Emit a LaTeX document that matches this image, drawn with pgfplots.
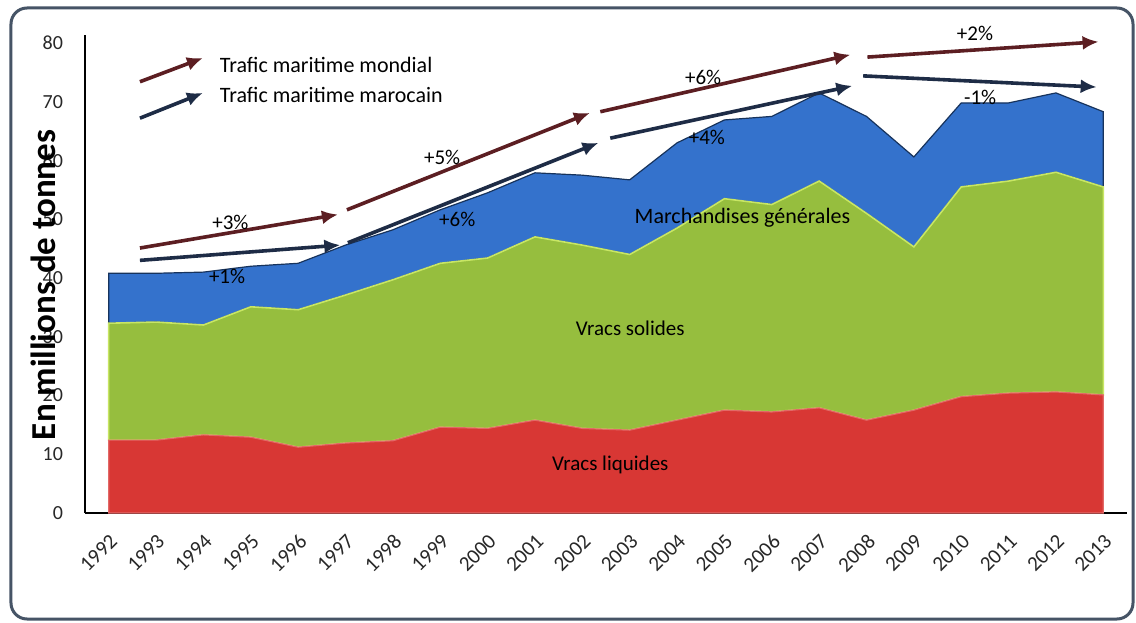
\documentclass[border=0pt]{standalone}
\usepackage{fontspec}
\setmainfont{Carlito}
\usepackage{pgfplots}
\usepackage{pgfplotstable}
\pgfplotsset{compat=1.18}
\usetikzlibrary{arrows.meta}

\definecolor{liq}{RGB}{216,55,52}
\definecolor{sol}{RGB}{150,190,62}
\definecolor{solline}{RGB}{200,230,100}
\definecolor{gen}{RGB}{52,114,204}
\definecolor{mond}{RGB}{92,30,34}
\definecolor{maro}{RGB}{30,44,70}
\definecolor{framec}{RGB}{70,84,102}
\definecolor{tickc}{RGB}{40,40,40}

\pgfplotstableread{
year liq sol gen
1992 12.4 19.9 8.5
1993 12.4 20.1 8.3
1994 13.3 18.7 9.0
1995 12.9 22.2 6.9
1996 11.2 23.4 7.9
1997 11.9 25.2 8.5
1998 12.3 27.4 8.5
1999 14.6 27.9 9.1
2000 14.4 29.0 11.1
2001 15.8 31.2 10.9
2002 14.4 31.2 11.9
2003 14.1 29.9 12.7
2004 15.8 32.7 14.5
2005 17.5 36.0 13.4
2006 17.2 35.3 15.0
2007 17.9 38.6 15.0
2008 15.8 35.2 16.5
2009 17.5 27.8 15.3
2010 19.8 35.7 14.3
2011 20.4 36.1 13.3
2012 20.6 37.4 13.5
2013 20.1 35.4 12.8
}\datatable

\tikzset{
  tarrow/.style={line width=1.8pt, -{Latex[length=8pt,width=7pt]}},
  pct/.style={font=\fontsize{10.5}{12}\selectfont},
}

\begin{document}
\begin{tikzpicture}
\useasboundingbox (-42.5pt,-54.5pt) rectangle (525.5pt,256.5pt);
\fill[white] (-42.5pt,-54.5pt) rectangle (525.5pt,256.5pt);
\draw[framec, line width=1.5pt, rounded corners=8pt] (-37pt,-53pt) rectangle (524pt,252.5pt);
\begin{axis}[
  scale only axis,
  width=521pt, height=239pt,
  xmin=1991.5, xmax=2013.5,
  ymin=0, ymax=81.36,
  stack plots=y,
  clip=false,
  axis x line=bottom, axis y line=left,
  axis line style={-, black, line width=0.75pt},
  major tick length=0pt,
  xtick={1992,...,2013},
  ytick={0,10,...,80},
  /pgf/number format/1000 sep={},
  /pgf/number format/assume math mode=true,
  xticklabel style={font=\fontsize{10.5}{12}\selectfont, text=tickc, yshift=-5pt, rotate=45, anchor=north east},
  yticklabel style={font=\fontsize{10}{12}\selectfont, text=tickc, xshift=-7.5pt},
  ylabel={En millions de tonnes},
  ylabel style={font=\bfseries\fontsize{17.5}{20}\selectfont, at={(axis description cs:-0.040,0.477)}, anchor=center},
]
\addplot[fill=liq, draw=liq!75!white, line width=0.6pt] table[x=year,y=liq]{\datatable} \closedcycle;
\addplot[fill=sol, draw=solline, line width=0.8pt] table[x=year,y=sol]{\datatable} \closedcycle;
\addplot[fill=gen, draw=gen!45!black, line width=0.6pt] table[x=year,y=gen]{\datatable} \closedcycle;

% world traffic arrows
\coordinate (w1a) at (axis cs:1992.66,45.1);  \coordinate (w1b) at (axis cs:1996.84,50.8);
\coordinate (w2a) at (axis cs:1997.03,51.6);  \coordinate (w2b) at (axis cs:2002.16,68.1);
\coordinate (w3a) at (axis cs:2002.38,68.3);  \coordinate (w3b) at (axis cs:2007.66,78.0);
\coordinate (w4a) at (axis cs:2008.02,77.6);  \coordinate (w4b) at (axis cs:2012.9,80.2);
% Moroccan traffic arrows
\coordinate (m1a) at (axis cs:1992.66,43.0);  \coordinate (m1b) at (axis cs:1996.89,45.6);
\coordinate (m2a) at (axis cs:1997.05,46.0);  \coordinate (m2b) at (axis cs:2002.34,63.0);
\coordinate (m3a) at (axis cs:2002.59,63.8);  \coordinate (m3b) at (axis cs:2007.7,72.7);
\coordinate (m4a) at (axis cs:2007.93,74.4);  \coordinate (m4b) at (axis cs:2012.86,72.5);
% key
\coordinate (kwa) at (axis cs:1992.66,73.4);  \coordinate (kwb) at (axis cs:1993.99,77.45);
\coordinate (kma) at (axis cs:1992.66,67.2);  \coordinate (kmb) at (axis cs:1993.99,71.5);
\coordinate (kwt) at (axis cs:1994.2,76.3);   \coordinate (kmt) at (axis cs:1994.2,71.15);
% labels
\coordinate (p1) at (axis cs:1994.57,49.4);
\coordinate (p2) at (axis cs:1994.5,40.2);
\coordinate (p3) at (axis cs:1999.04,60.6);
\coordinate (p4) at (axis cs:1999.36,49.9);
\coordinate (p5) at (axis cs:2004.55,74.2);
\coordinate (p6) at (axis cs:2004.63,64.0);
\coordinate (p7) at (axis cs:2010.29,81.7);
\coordinate (p8) at (axis cs:2010.4,70.8);
\coordinate (lg) at (axis cs:2005.38,50.2);
\coordinate (ls) at (axis cs:2003.01,31.5);
\coordinate (ll) at (axis cs:2002.59,8.2);
\end{axis}

\draw[mond, tarrow] (w1a) -- (w1b);
\draw[mond, tarrow] (w2a) -- (w2b);
\draw[mond, tarrow] (w3a) -- (w3b);
\draw[mond, tarrow] (w4a) -- (w4b);
\draw[maro, tarrow] (m1a) -- (m1b);
\draw[maro, tarrow] (m2a) -- (m2b);
\draw[maro, tarrow] (m3a) -- (m3b);
\draw[maro, tarrow] (m4a) -- (m4b);
\draw[mond, tarrow] (kwa) -- (kwb);
\draw[maro, tarrow] (kma) -- (kmb);
\node[anchor=west, font=\fontsize{11}{13}\selectfont] at (kwt) {Trafic maritime mondial};
\node[anchor=west, font=\fontsize{11}{13}\selectfont] at (kmt) {Trafic maritime marocain};
\node[pct] at (p1) {+3\%};
\node[pct] at (p2) {+1\%};
\node[pct] at (p3) {+5\%};
\node[pct] at (p4) {+6\%};
\node[pct] at (p5) {+6\%};
\node[pct] at (p6) {+4\%};
\node[pct] at (p7) {+2\%};
\node[pct] at (p8) {-1\%};
\node[font=\fontsize{11}{13}\selectfont] at (lg) {Marchandises générales};
\node[pct] at (ls) {Vracs solides};
\node[pct] at (ll) {Vracs liquides};
\end{tikzpicture}
\end{document}
